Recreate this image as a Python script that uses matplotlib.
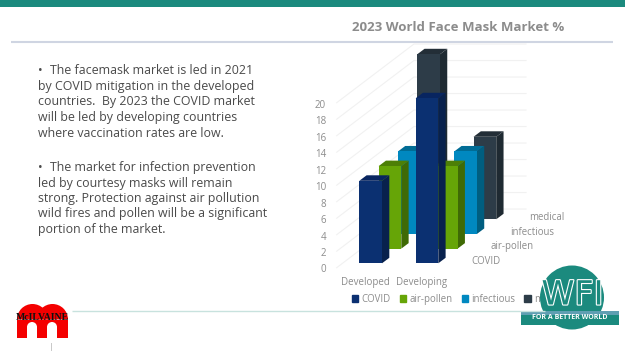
import matplotlib
matplotlib.use("Agg")
import matplotlib.pyplot as plt
from matplotlib.patches import Rectangle, Circle, Wedge, Patch
from matplotlib.transforms import ScaledTranslation
import matplotlib.patheffects as pe
import numpy as np

categories = ["Developed", "Developing"]
series_names = ["COVID", "air-pollen", "infectious", "medical"]
covid = [10, 20]
air_pollen = [10, 10]
infectious = [10, 10]
medical = [20, 10]
y_ticks = list(range(0, 21, 2))
title = "2023 World Face Mask Market %"
para1 = ["The facemask market is led in 2021", "by COVID mitigation in the developed",
         "countries.  By 2023 the COVID market", "will be led by developing countries",
         "where vaccination rates are low."]
para2 = ["The market for infection prevention", "led by courtesy masks will remain",
         "strong. Protection against air pollution", "wild fires and pollen will be a significant",
         "portion of the market."]

values = [covid, air_pollen, infectious, medical]
front = ["#0b3071", "#66a507", "#0088c0", "#2d3c48"]
side = ["#08214d", "#3f6a05", "#005e80", "#1f2a32"]
top = ["#082560", "#4d7f06", "#006c95", "#232e37"]
GREY = "#8c8c8c"
TEAL = "#1b8a7e"

plt.rcParams["font.family"] = ["Open Sans", "DejaVu Sans"]
W, H = 625, 351
fig = plt.figure(figsize=(W / 100, H / 100), dpi=100, facecolor="white")

# chart axes
L, R, T, B = 329, 600, 40, 275
PXX, PXY, X0, Y0 = 56.3, 8.25, 370.65, 263.3
ax = fig.add_axes([L / W, 1 - B / H, (R - L) / W, (B - T) / H])
ax.set_xlim((L - X0) / PXX, (R - X0) / PXX)
ax.set_ylim((Y0 - B) / PXY, (Y0 - T) / PXY)
ax.patch.set_alpha(0)
for s in ax.spines.values():
    s.set_visible(False)

DX, DY = 0.343, 1.778      # shift per series
SX, SY = 0.13, 0.667       # bar depth
BW = 0.403

# wall grid
gx0, gy0 = -0.603, -0.533
for v in y_ticks:
    ax.plot([gx0, gx0 + 4 * DX, 2.76], [v + gy0, v + gy0 + 4 * DY, v + gy0 + 4 * DY],
            color="#f1f1f1", lw=0.8, zorder=1)

z = 2
for i in range(3, -1, -1):
    for c, v in enumerate(values[i]):
        x0 = c - BW / 2 + i * DX
        x1 = x0 + BW
        b = i * DY
        ax.fill([x1, x1 + SX, x1 + SX, x1], [b, b + SY, b + v + SY, b + v],
                color=side[i], lw=0, zorder=z)
        ax.fill([x0, x0 + SX, x1 + SX, x1], [b + v, b + v + SY, b + v + SY, b + v],
                color=top[i], lw=0, zorder=z)
        ax.bar(x0 + BW / 2, v, BW, bottom=b, color=front[i], lw=0, zorder=z + 0.5)
        z += 1
    ax.text(1.79 + i * DX, 0.2 + i * DY, series_names[i], color=GREY, fontsize=6.9,
            va="center", ha="left", zorder=50)

ax.set_yticks(y_ticks)
ax.set_xticks([-0.1, 0.9])
ax.set_xticklabels(categories)
ax.tick_params(axis="both", length=0, labelsize=7.0, labelcolor=GREY)
ax.tick_params(axis="y", pad=2.2)
ax.tick_params(axis="x", pad=1.5)
off = ScaledTranslation(0, -5.2 / 100, fig.dpi_scale_trans)
for lab in ax.get_yticklabels():
    lab.set_transform(lab.get_transform() + off)

handles = [Patch(color=front[i], label=series_names[i]) for i in range(4)]
ax.legend(handles=handles, ncol=4, frameon=False, fontsize=6.9, labelcolor=GREY,
          loc="center left", bbox_to_anchor=(352 / W, 1 - 299.3 / H), bbox_transform=fig.transFigure,
          handlelength=0.65, handleheight=0.65, handletextpad=0.35, columnspacing=0.95,
          borderpad=0, borderaxespad=0)

# page decoration, in pixels
ov = fig.add_axes([0, 0, 1, 1], zorder=10)
ov.set_xlim(0, W)
ov.set_ylim(H, 0)
ov.axis("off")
ov.patch.set_alpha(0)
ov.add_patch(Rectangle((0, 0), W, 7, color=TEAL, lw=0))
ov.plot([11, 613], [42, 42], color="#cfd5e2", lw=1.5, solid_capstyle="butt")
ov.plot([72, 545], [311, 311], color="#c8e2de", lw=1.0, solid_capstyle="butt")
ov.plot([51, 51], [343, 350], color="#c8c8c8", lw=0.7)
ov.text(351.5, 27.5, title, color=GREY, fontsize=9.55, fontweight="bold", va="center", ha="left")

TXT = "#4a4a4a"
for lines, ys in ((para1, [70.7, 86.5, 102, 117.5, 133.3]), (para2, [167.3, 183, 198.3, 214, 229.3])):
    ov.text(38, ys[0], "•", color=TXT, fontsize=9, va="center", ha="left")
    for k, (ln, y) in enumerate(zip(lines, ys)):
        ov.text(50 if k == 0 else 38, y, ln, color=TXT, fontsize=8.9, va="center", ha="left")

# McILVAINE logo
RED = "#f40000"
for cx in (32.5, 52.5):
    ov.add_patch(Wedge((cx, 319.5), 15.5, 180, 360, color=RED, lw=0))
    ov.add_patch(Rectangle((cx - 15.5, 319.5), 31, 18, color=RED, lw=0))
for cx in (32, 52):
    ov.add_patch(Wedge((cx, 327), 5, 180, 360, color="white", lw=0))
    ov.add_patch(Rectangle((cx - 5, 327), 10, 11, color="white", lw=0))
ov.text(42, 317.5, "McILVAINE", family="Liberation Serif", fontweight="bold", fontsize=7.0,
        color="#111111", ha="center", va="center")

# WFI logo
ov.add_patch(Circle((572, 297.5), 32, color=TEAL, lw=0))
ov.add_patch(Rectangle((521, 311), 98, 14, color=TEAL, lw=0))
ov.add_patch(Rectangle((521, 310.5), 98, 4.5, color="#5f9fb2", lw=0))
ov.text(572.5, 295, "WFI", family=["Liberation Sans Narrow", "DejaVu Sans"], fontsize=24, color=TEAL,
        ha="center", va="center", path_effects=[pe.withStroke(linewidth=1.6, foreground="white")])
ov.text(570, 317.5, "FOR A BETTER WORLD", color="white", fontsize=5.0, fontweight="bold",
        ha="center", va="center")

fig.savefig("out.png", dpi=100)
